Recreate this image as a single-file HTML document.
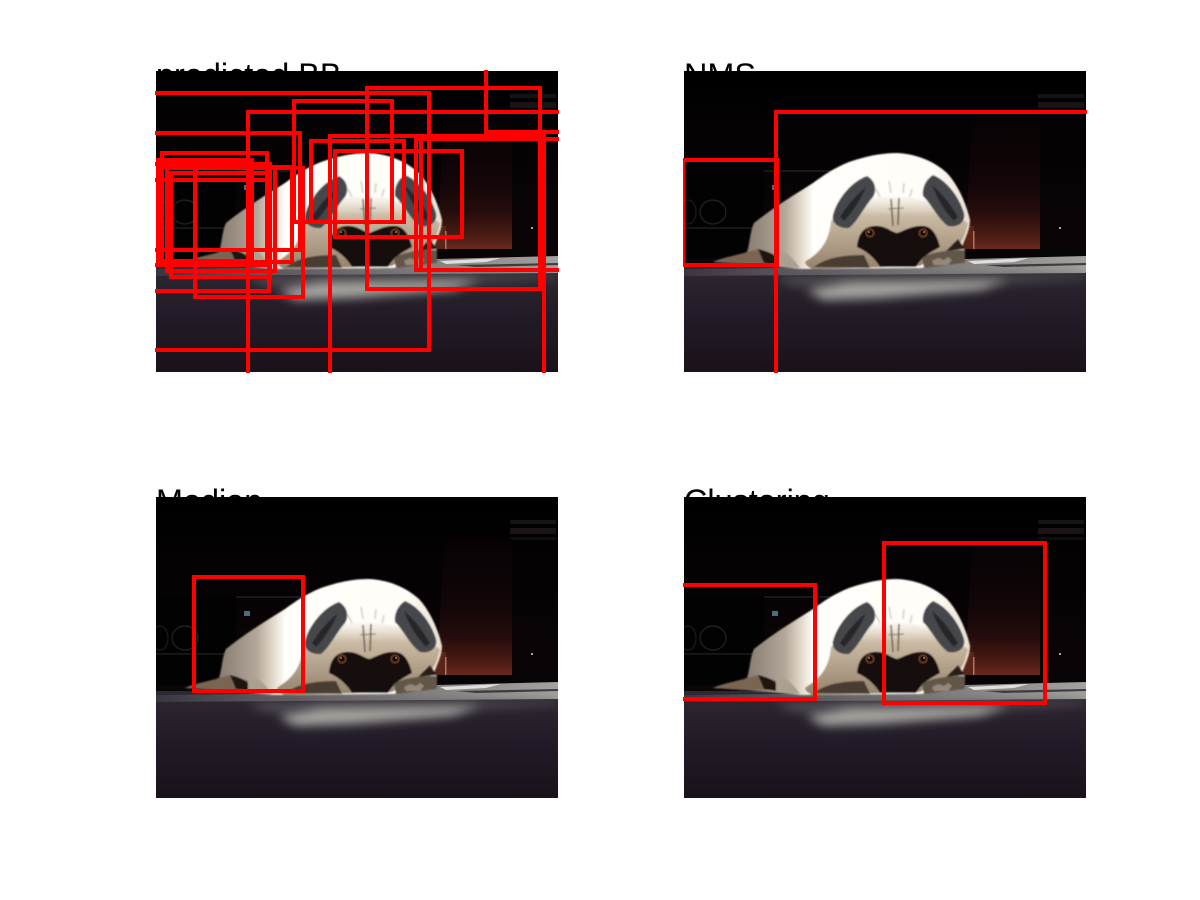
<!DOCTYPE html>
<html lang="en">
<head>
<meta charset="utf-8">
<title>Bounding box comparison</title>
<style>
html,body{margin:0;padding:0;background:#fff;}
svg{display:block;}
text{font-family:"Liberation Sans",sans-serif;font-size:32.4px;fill:#000;}
</style>
</head>
<body>
<svg id="figure" xmlns="http://www.w3.org/2000/svg" width="1200" height="900" viewBox="0 0 1200 900">
<defs>
  <linearGradient id="wallGrad" x1="0" y1="0" x2="0" y2="1">
    <stop offset="0" stop-color="#000"/><stop offset="0.5" stop-color="#0a0406"/><stop offset="1" stop-color="#060204"/>
  </linearGradient>
  <linearGradient id="floorGrad" x1="0" y1="0" x2="0" y2="1">
    <stop offset="0" stop-color="#2e2832"/><stop offset="0.5" stop-color="#221b27"/><stop offset="1" stop-color="#1a1119"/>
  </linearGradient>
  <linearGradient id="chairGrad" x1="0" y1="0" x2="0" y2="1">
    <stop offset="0" stop-color="#050203"/><stop offset="0.5" stop-color="#130608"/><stop offset="0.72" stop-color="#260d0c"/><stop offset="0.9" stop-color="#4e1c14"/><stop offset="1" stop-color="#6e2c20"/>
  </linearGradient>
  <linearGradient id="bodyGrad" gradientUnits="userSpaceOnUse" x1="29" y1="0" x2="286" y2="0">
    <stop offset="0" stop-color="#6a5a4a"/><stop offset="0.16" stop-color="#8f8478"/><stop offset="0.28" stop-color="#b3a799"/><stop offset="0.34" stop-color="#e0d6c8"/><stop offset="0.39" stop-color="#fffefa"/><stop offset="0.86" stop-color="#fffdf8"/><stop offset="1" stop-color="#e8dfd0"/>
  </linearGradient>
  <linearGradient id="stripGrad" x1="0" y1="0" x2="1" y2="0">
    <stop offset="0" stop-color="#3a3540"/><stop offset="0.25" stop-color="#5a565c"/><stop offset="0.7" stop-color="#868482"/><stop offset="1" stop-color="#a4a29f"/>
  </linearGradient>
  <linearGradient id="faceGrad" gradientUnits="userSpaceOnUse" x1="0" y1="122" x2="0" y2="198">
    <stop offset="0" stop-color="#e4d8c6" stop-opacity="0"/><stop offset="0.3" stop-color="#cbbba4"/><stop offset="1" stop-color="#96826c"/>
  </linearGradient>
  <filter id="softBlur" x="-30%" y="-150%" width="160%" height="400%"><feGaussianBlur stdDeviation="5"/></filter>
  <filter id="tinyBlur" x="-10%" y="-10%" width="120%" height="120%"><feGaussianBlur stdDeviation="0.8"/></filter>
  <clipPath id="panelClip"><rect x="-1" y="-1" width="404" height="303"/></clipPath>
  <clipPath id="sceneClip"><rect x="0" y="0" width="402" height="301"/></clipPath>
  <g id="pug-scene" clip-path="url(#sceneClip)">
    <rect width="402" height="301" fill="url(#wallGrad)"/>
    <rect x="0" y="100" width="80" height="95" fill="#030203"/>
    <rect x="80" y="99" width="70" height="2" fill="#1a181c"/>
    <rect x="0" y="156" width="70" height="2" fill="#161618"/>
    <rect x="88" y="114" width="6" height="5" fill="#4e6c80"/>
    <ellipse cx="29" cy="141" rx="13" ry="12" fill="none" stroke="#262422" stroke-width="1.2"/>
    <ellipse cx="4" cy="141" rx="8" ry="12" fill="none" stroke="#1e1c1a" stroke-width="1.2"/>
    <rect x="354" y="23" width="46" height="4" fill="#141417"/>
    <rect x="354" y="31" width="46" height="6" fill="#1a1417"/>
    <rect x="354" y="40" width="46" height="3" fill="#0f0d10"/>
    <path d="M289 42 H356 V178 L346 180 L282 178 L282 150 Z" fill="url(#chairGrad)"/>
    <rect x="278" y="155" width="12" height="23" fill="#5a2418"/>
    <rect x="289" y="160" width="1.5" height="18" fill="#a87860"/>
    <rect x="0" y="188" width="402" height="7" fill="#0a0608"/>
    <rect x="280" y="178" width="122" height="12" fill="#060405"/>
    <rect x="0" y="194" width="402" height="107" fill="url(#floorGrad)"/>
    <path d="M281 188 L402 185 V202 L0 205 V198 L100 197 Z" fill="url(#stripGrad)"/>
    <path d="M284 190 L345 187 L330 191 L290 193 Z" fill="#dededc"/>
    <path d="M300 194 L402 192 V194 L320 196 Z" fill="#3e3c40"/>
    <path d="M90 206 L402 204 V207 L300 212 L110 214 Z" fill="#565258" filter="url(#softBlur)"/>
    <path d="M122 219 L165 211 L325 209 L296 219 L195 227 L140 229 Z" fill="#a6a5a0" filter="url(#softBlur)"/>
    <g filter="url(#tinyBlur)">
      <path d="M29 191 C40 186 55 184 63 181 C66 172 66 160 70 152 C90 136 110 124 129 112 C140 104 150 97 165 91 C185 84 200 82 213 82 C235 83 252 92 263 102 C275 115 283 135 286 149 C286 158 282 165 278 176 L281 179 L281 192 L236 197 L116 198 L96 196 L60 193 Z" fill="url(#bodyGrad)"/>
      <path d="M147 150 C160 138 175 128 195 126 C215 124 245 128 262 138 C272 143 280 150 284 152 C282 160 280 168 276 172 L262 180 L236 195 L170 197 L128 198 C122 195 120 192 122 190 C135 182 145 172 147 150 Z" fill="url(#faceGrad)"/>
      <path d="M29 191 C40 186 55 184 63 181 L75 178 L92 184 L92 193 L60 193 Z" fill="#7a6552"/>
      <path d="M74 178 C82 180 88 182 92 186 L92 194 L80 192 Z" fill="#1a1410"/>
      <path d="M96 181 C102 180 108 186 116 197 L96 196 Z" fill="#aaa090"/>
      <path d="M149 144 C153 128 168 110 183 105 C192 110 193 120 189 126 C180 136 174 150 165 157 C155 158 147 152 149 144 Z" fill="#44464c"/>
      <path d="M280 142 C276 128 264 110 249 104 C241 109 238 118 239 125 C248 134 254 148 264 155 C274 157 282 151 280 142 Z" fill="#44464c"/>
      <path d="M156 146 C162 136 170 126 182 116 C176 130 168 142 160 150 Z" fill="#26272b"/>
      <path d="M274 146 C268 136 260 124 248 114 C254 130 262 142 270 150 Z" fill="#26272b"/>
      <path d="M173 176 C174 165 178 156 190 155 C200 154 206 160 213 162 C220 160 228 154 240 155 C250 156 254 168 256 176 C245 182 238 186 232 196 L196 196 C190 186 182 180 173 176 Z" fill="#140f10"/>
      <path d="M130 196 C140 188 155 184 180 184 L186 197 Z" fill="#4a3c32"/>
      <path d="M238 187 C245 182 260 179 281 179 L281 192 L240 197 Z" fill="#62564a"/>
      <path d="M248 190 l6 -3 l6 2 l4 -3 l4 3 l-4 5 h-14 Z" fill="#958878"/>
      <path d="M274 168 L281 178 L262 180 Z" fill="#2a1f18"/>
      <path d="M207 128 L209 155 M215 127 L214 154" fill="none" stroke="#64544a" stroke-width="1.5"/>
      <path d="M204 138 L220 137" fill="none" stroke="#7a6a5c" stroke-width="1"/>
      <path d="M192 118 L196 126 M228 118 L226 126 M205 110 L207 122 M220 112 L219 122" fill="none" stroke="#d4ccc0" stroke-width="1.5"/>
    </g>
    <circle cx="186" cy="162" r="5" fill="#5a3216"/><circle cx="186" cy="162" r="2.4" fill="#0c0605"/><circle cx="185" cy="161" r="0.8" fill="#d8d4cc"/>
    <circle cx="239" cy="162" r="5" fill="#5a3216"/><circle cx="239" cy="162" r="2.4" fill="#0c0605"/><circle cx="240" cy="161" r="0.8" fill="#d8d4cc"/>
    <circle cx="376" cy="157" r="1" fill="#ddd"/>
  </g>
</defs>

<g transform="translate(156,71)">
  <text x="0" y="15">predicted BB</text>
  <use href="#pug-scene"/>
  <g id="boxes-predicted" clip-path="url(#panelClip)"></g>
</g>
<g transform="translate(684,71)">
  <text x="0" y="15">NMS</text>
  <use href="#pug-scene"/>
  <g id="boxes-nms" clip-path="url(#panelClip)"></g>
</g>
<g transform="translate(156,497)">
  <text x="0" y="15">Median</text>
  <use href="#pug-scene"/>
  <g id="boxes-median" clip-path="url(#panelClip)"></g>
</g>
<g transform="translate(684,497)">
  <text x="0" y="15">Clustering</text>
  <use href="#pug-scene"/>
  <g id="boxes-clustering" clip-path="url(#panelClip)"></g>
</g>
</svg>

<script>
// Bounding boxes in image coordinates: [left, top, right, bottom]
const predictedBoxes = [
  [-20,22,273,279],[211,17,384,218],[138,30,236,151],[92,41,430,320],[330,-20,430,61],
  [-20,62,144,179],[174,65,388,320],[155,70,248,151],[179,80,306,166],[260,68,430,199],
  [265,66,386,199],[6,82,111,191],[2,89,96,190],[-20,93,114,194],[11,97,119,200],
  [39,97,147,226],[15,102,114,206],[-20,109,113,220],[5,96,136,191]
];
const nmsBoxes = [[-1,89,93,194],[92,41,430,320]];
const medianBoxes = [[38,80,147,194]];
const clusteringBoxes = [[-20,88,131,202],[200,46,361,206]];

const xAxis = function (v) { return v; };
const yAxis = function (v) { return v; };
const SVG_NS = 'http://www.w3.org/2000/svg';

function drawBoxes(targetId, boxes) {
  const group = document.getElementById(targetId);
  boxes.forEach(function (b) {
    const rect = document.createElementNS(SVG_NS, 'rect');
    rect.setAttribute('x', xAxis(b[0]));
    rect.setAttribute('y', yAxis(b[1]));
    rect.setAttribute('width', xAxis(b[2]) - xAxis(b[0]));
    rect.setAttribute('height', yAxis(b[3]) - yAxis(b[1]));
    rect.setAttribute('fill', 'none');
    rect.setAttribute('stroke', '#ff0000');
    rect.setAttribute('stroke-width', '4');
    
    
    group.appendChild(rect);
  });
}
drawBoxes('boxes-predicted', predictedBoxes);
drawBoxes('boxes-nms', nmsBoxes);
drawBoxes('boxes-median', medianBoxes);
drawBoxes('boxes-clustering', clusteringBoxes);
</script>
</body>
</html>
